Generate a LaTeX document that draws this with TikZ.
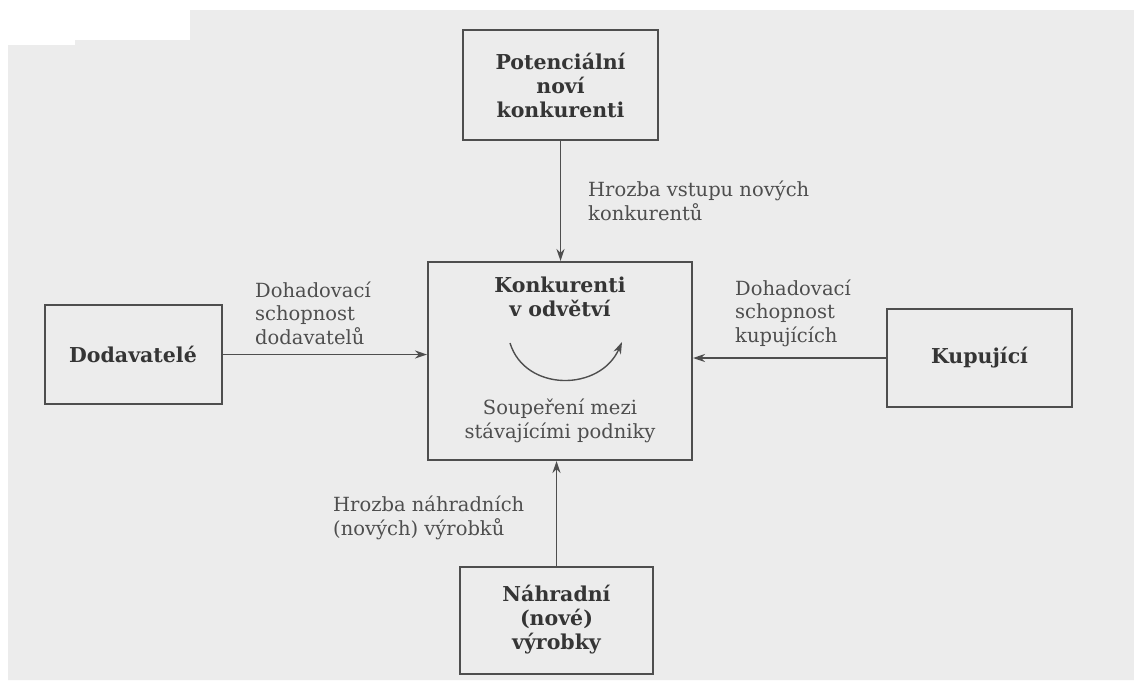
\documentclass[tikz,border=0pt]{standalone}
\usepackage{fontspec}
\setmainfont{DejaVu Serif}
\usetikzlibrary{arrows.meta}
\definecolor{paper}{HTML}{ECECEC}
\definecolor{ink}{HTML}{4E4E4E}
\definecolor{inkdark}{HTML}{353535}
\tikzset{
  forcebox/.style={draw=ink, line width=2pt, minimum width=#1, inner sep=0pt,
    align=center, font=\bfseries\fontsize{20.5}{24}\selectfont, text=inkdark},
  boxtitle/.style={inner sep=0pt, align=center,
    font=\bfseries\fontsize{20.5}{23.5}\selectfont, text=inkdark},
  lbl/.style={font=\fontsize{19.5}{23.5}\selectfont, text=ink, inner sep=0pt},
  force/.style={draw=ink, line width=1.8pt, -{Stealth[length=12pt,width=8pt]}},
}
\begin{document}
\begin{tikzpicture}[x=1pt, y=-1pt]
  \useasboundingbox (0,0) rectangle (1134,691);
  % scanned page
  \fill[white] (0,0) rectangle (1134,691);
  \fill[paper] (8,45) -- (75,45) -- (75,40) -- (190,40) -- (190,10) -- (1134,10)
    -- (1134,680) -- (8,680) -- cycle;

  % the five boxes
  \node[forcebox=195pt, minimum height=110pt] (entrants) at (560.5,85)
    {Potenciální\\noví\\konkurenti};
  \node[draw=ink, line width=2pt, minimum width=264pt, minimum height=198pt] (rivals) at (560,361) {};
  \node[forcebox=177pt, minimum height=99pt] (suppliers) at (133,354.5) {Dodavatelé};
  \node[forcebox=185pt, minimum height=98pt] (buyers) at (979.5,358) {Kupující};
  \node[forcebox=193pt, minimum height=107pt] (substitutes) at (556.5,620)
    {Náhradní\\(nové)\\výrobky};

  % texts inside the central box
  \node[boxtitle] (rivalstitle) at (560,297) {Konkurenti\\v odvětví};
  \node[lbl, align=center] (rivalry) at (560,421) {Soupeření mezi\\stávajícími podniky};
  \coordinate (cycA) at (510,343);
  \coordinate (cycB) at (622,342);
  \draw[force, line width=1.4pt] (cycA) .. controls (525,392) and (600,392) .. (cycB);

  % forces acting on the industry
  \draw[force] (entrants.south) -- (entrants.south |- rivals.north);
  \draw[force] (suppliers.east) -- (suppliers.east -| rivals.west);
  \draw[force] (buyers.west) -- (buyers.west -| rivals.east);
  \draw[force] (substitutes.north) -- (substitutes.north |- rivals.south);

  % labels of the forces
  \node[lbl, align=left, anchor=west] (entrylbl) at (588,201) {Hrozba vstupu nových\\konkurentů};
  \node[lbl, align=left, anchor=west] (supplierlbl) at (255,313) {Dohadovací\\schopnost\\dodavatelů};
  \node[lbl, align=left, anchor=west] (buyerlbl) at (735,313) {Dohadovací\\schopnost\\kupujících};
  \node[lbl, align=left, anchor=west] (substlbl) at (333,518) {Hrozba náhradních\\(nových) výrobků};
\end{tikzpicture}
\end{document}
